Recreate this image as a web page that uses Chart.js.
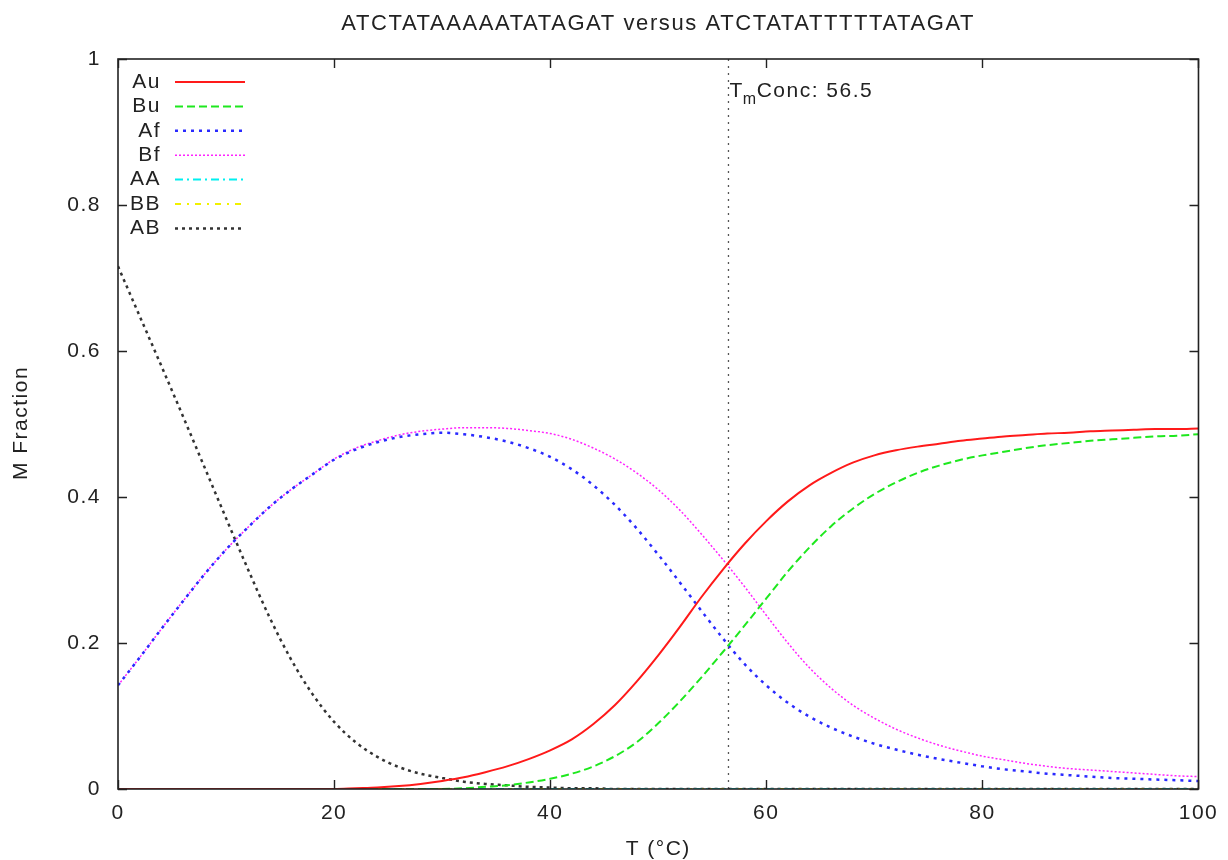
<!DOCTYPE html>
<html>
<head>
<meta charset="utf-8">
<title>Melting curves</title>
<script src="https://cdn.jsdelivr.net/npm/chart.js@4.4.1/dist/chart.umd.min.js"></script>
<style>
  html, body { margin: 0; padding: 0; background: #fff; }
  #wrap { width: 1228px; height: 860px; }
</style>
</head>
<body>
<div id="wrap"><canvas id="meltChart" width="1228" height="860"></canvas></div>
<script>
// Temperature grid (°C) and species fractions
const temps = [0, 2, 4, 6, 8, 10, 12, 14, 16, 18, 20, 22, 24, 26, 28, 30, 32, 34, 36, 38, 40,
  42, 44, 46, 48, 50, 52, 54, 56, 58, 60, 62, 64, 66, 68, 70, 72, 74, 76, 78, 80,
  82, 84, 86, 88, 90, 92, 94, 96, 98, 100];

const au = [0, 0, 0, 0, 0, 0, 0, 0, 0, 0, 0,
  0.001, 0.002, 0.004, 0.007, 0.011, 0.016, 0.023, 0.031, 0.041, 0.053,
  0.068, 0.089, 0.115, 0.147, 0.183, 0.222, 0.263, 0.301, 0.336, 0.367,
  0.394, 0.416, 0.433, 0.447, 0.457, 0.464, 0.469, 0.473, 0.477, 0.48,
  0.483, 0.485, 0.487, 0.488, 0.49, 0.491, 0.492, 0.493, 0.493, 0.494];

const bu = [0, 0, 0, 0, 0, 0, 0, 0, 0, 0, 0, 0, 0, 0, 0, 0,
  0.001, 0.003, 0.005, 0.009, 0.014,
  0.021, 0.031, 0.045, 0.064, 0.09, 0.12, 0.153, 0.188, 0.224, 0.261,
  0.298, 0.331, 0.36, 0.384, 0.404, 0.42, 0.433, 0.443, 0.451, 0.457,
  0.462, 0.467, 0.471, 0.474, 0.477, 0.479, 0.481, 0.483, 0.484, 0.486];

const af = [0.142, 0.18, 0.219, 0.257, 0.294, 0.328, 0.358, 0.386, 0.41, 0.431, 0.451,
  0.465, 0.475, 0.482, 0.486, 0.488, 0.486, 0.482, 0.476, 0.467, 0.455,
  0.438, 0.416, 0.389, 0.357, 0.321, 0.283, 0.244, 0.206, 0.171, 0.142,
  0.118, 0.099, 0.084, 0.072, 0.062, 0.054, 0.047, 0.041, 0.036, 0.031,
  0.027, 0.024, 0.021, 0.019, 0.017, 0.015, 0.014, 0.013, 0.012, 0.011];

const bf = [0.142, 0.18, 0.219, 0.257, 0.294, 0.328, 0.358, 0.386, 0.41, 0.431, 0.452,
  0.467, 0.477, 0.485, 0.49, 0.493, 0.495, 0.495, 0.494, 0.491, 0.487,
  0.479, 0.467, 0.452, 0.433, 0.41, 0.382, 0.349, 0.314, 0.277, 0.238,
  0.2, 0.166, 0.138, 0.115, 0.097, 0.082, 0.07, 0.06, 0.052, 0.045,
  0.04, 0.035, 0.031, 0.028, 0.026, 0.024, 0.022, 0.02, 0.018, 0.017];

const aa = [0, 0, 0, 0, 0, 0, 0, 0, 0, 0, 0, 0, 0, 0, 0, 0, 0, 0, 0, 0, 0, 0, 0, 0, 0, 0,
  0, 0, 0, 0, 0, 0, 0, 0, 0, 0, 0, 0, 0, 0, 0, 0, 0, 0, 0, 0, 0, 0, 0, 0, 0];

const bb = [0, 0, 0, 0, 0, 0, 0, 0, 0, 0, 0, 0, 0, 0, 0, 0, 0, 0, 0, 0, 0, 0, 0, 0, 0, 0,
  0, 0, 0, 0, 0, 0, 0, 0, 0, 0, 0, 0, 0, 0, 0, 0, 0, 0, 0, 0, 0, 0, 0, 0, 0];

const ab = [0.716, 0.648, 0.58, 0.511, 0.441, 0.371, 0.302, 0.236, 0.178, 0.13, 0.092,
  0.064, 0.044, 0.03, 0.021, 0.015, 0.01, 0.007, 0.005, 0.003, 0.002,
  0.001, 0.001, 0, 0, 0, 0, 0, 0, 0, 0,
  0, 0, 0, 0, 0, 0, 0, 0, 0, 0,
  0, 0, 0, 0, 0, 0, 0, 0, 0, 0];

const tmConc = 56.5;
const xTicks = [0, 20, 40, 60, 80, 100];
const yTicks = [0, 0.2, 0.4, 0.6, 0.8, 1];
const chartTitle = 'ATCTATAAAAATATAGAT versus ATCTATATTTTTATAGAT';
const xTitle = 'T (°C)';
const yTitle = 'M Fraction';

const FONT = '"Liberation Sans", Arial, sans-serif';

function pts(values) {
  return temps.map((t, i) => ({ x: t, y: values[i] }));
}

function series(label, values, color, width, dash) {
  return {
    label: label,
    data: pts(values),
    borderColor: color,
    borderWidth: width,
    borderDash: dash,
    pointRadius: 0,
    fill: false,
    cubicInterpolationMode: 'monotone'
  };
}

const datasets = [
  series('Au', au, '#ff1a1a', 2, []),
  series('Bu', bu, '#1ee81e', 2, [8, 4]),
  series('Af', af, '#2a2aff', 2.5, [3, 5]),
  series('Bf', bf, '#ff22ff', 1.5, [2, 2]),
  series('AA', aa, '#00f0f0', 2, [8, 4, 2, 4]),
  series('BB', bb, '#f0f000', 2, [6, 6, 2, 6]),
  series('AB', ab, '#333333', 2.5, [3, 4]),
  {
    label: 'Tm',
    data: [{ x: tmConc, y: 0 }, { x: tmConc, y: 1 }],
    borderColor: '#555',
    borderWidth: 1.3,
    borderDash: [2, 5],
    pointRadius: 0,
    fill: false
  }
];

// frame, inward ticks, legend, titles and the Tm marker label
const decorations = {
  id: 'decorations',
  beforeDraw(chart) {
    const ctx = chart.ctx;
    ctx.save();
    ctx.fillStyle = '#fff';
    ctx.fillRect(0, 0, chart.width, chart.height);
    ctx.restore();
    ctx.letterSpacing = '1.5px';
  },
  afterDatasetsDraw(chart) {
    const { ctx, chartArea: a, scales: { x, y } } = chart;
    ctx.save();

    ctx.strokeStyle = '#222';
    ctx.lineWidth = 1.6;
    ctx.setLineDash([]);
    ctx.strokeRect(a.left, a.top, a.right - a.left, a.bottom - a.top);

    ctx.lineWidth = 1.4;
    ctx.beginPath();
    xTicks.forEach(t => {
      const px = Math.round(x.getPixelForValue(t)) + 0.5;
      ctx.moveTo(px, a.bottom); ctx.lineTo(px, a.bottom - 9);
      ctx.moveTo(px, a.top); ctx.lineTo(px, a.top + 9);
    });
    yTicks.forEach(t => {
      const py = Math.round(y.getPixelForValue(t)) + 0.5;
      ctx.moveTo(a.left, py); ctx.lineTo(a.left + 9, py);
      ctx.moveTo(a.right, py); ctx.lineTo(a.right - 9, py);
    });
    ctx.stroke();

    // legend in the top-left corner
    ctx.font = '21px ' + FONT;
    ctx.fillStyle = '#222';
    ctx.textAlign = 'right';
    ctx.textBaseline = 'middle';
    chart.data.datasets.slice(0, 7).forEach((ds, i) => {
      const ly = 82 + i * 24.4;
      ctx.letterSpacing = '1.5px';
      ctx.fillText(ds.label, 161, ly);
      ctx.strokeStyle = ds.borderColor;
      ctx.lineWidth = ds.borderWidth;
      ctx.setLineDash(ds.borderDash);
      ctx.beginPath();
      ctx.moveTo(175, ly);
      ctx.lineTo(245, ly);
      ctx.stroke();
    });
    ctx.setLineDash([]);

    // Tm label next to the vertical marker
    const tx = x.getPixelForValue(tmConc) + 1;
    ctx.textAlign = 'left';
    ctx.textBaseline = 'alphabetic';
    ctx.fillStyle = '#222';
    ctx.font = '21px ' + FONT;
    ctx.fillText('T', tx, 97);
    let off = ctx.measureText('T').width;
    ctx.font = '16px ' + FONT;
    ctx.fillText('m', tx + off - 1, 104);
    off += ctx.measureText('m').width - 2;
    ctx.font = '21px ' + FONT;
    ctx.fillText('Conc: ' + tmConc, tx + off, 97);

    // chart title
    ctx.font = '22px ' + FONT;
    ctx.letterSpacing = '1.6px';
    ctx.textAlign = 'center';
    ctx.fillText(chartTitle, (a.left + a.right) / 2, 30);

    // axis titles
    ctx.font = '21px ' + FONT;
    ctx.letterSpacing = '1.5px';
    ctx.fillText(xTitle, (a.left + a.right) / 2, 855);
    ctx.save();
    ctx.translate(27, 423);
    ctx.rotate(-Math.PI / 2);
    ctx.fillText(yTitle, 0, 0);
    ctx.restore();

    ctx.restore();
  }
};

const ctxMelt = document.getElementById('meltChart').getContext('2d');
const meltChart = new Chart(ctxMelt, {
  type: 'line',
  data: { datasets: datasets },
  options: {
    responsive: false,
    animation: false,
    layout: { padding: { top: 59, right: 28, left: 0, bottom: 0 } },
    plugins: {
      legend: { display: false },
      title: { display: false },
      tooltip: { enabled: false }
    },
    scales: {
      x: {
        type: 'linear',
        min: 0,
        max: 100,
        afterFit: s => { s.height = 71; },
        afterBuildTicks: s => { s.ticks = xTicks.map(v => ({ value: v })); },
        grid: { display: false, drawTicks: false },
        border: { display: false },
        ticks: { font: { family: FONT, size: 21 }, color: '#222', padding: 12, maxRotation: 0 }
      },
      y: {
        type: 'linear',
        min: 0,
        max: 1,
        afterFit: s => { s.width = 118; },
        afterBuildTicks: s => { s.ticks = yTicks.map(v => ({ value: v })); },
        grid: { display: false, drawTicks: false },
        border: { display: false },
        ticks: {
          font: { family: FONT, size: 21 },
          color: '#222',
          padding: 17,
          callback: v => (v === 0 || v === 1) ? String(v) : v.toFixed(1)
        }
      }
    }
  },
  plugins: [decorations]
});
</script>
</body>
</html>
